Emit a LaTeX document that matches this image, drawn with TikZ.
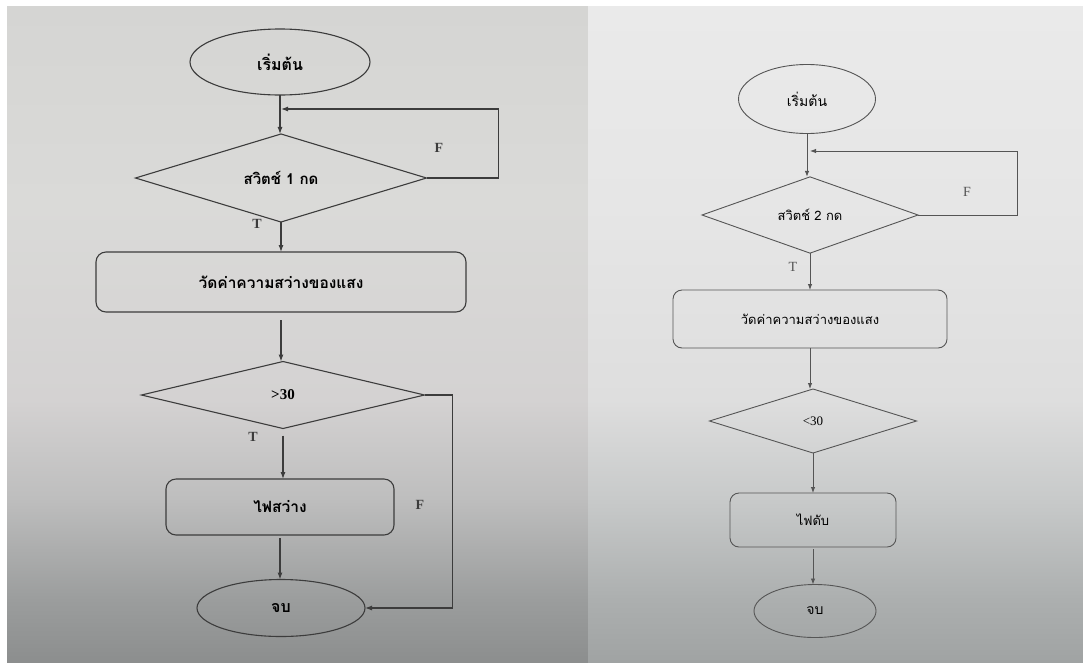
\documentclass[tikz,border=0pt]{standalone}
\usepackage{fontspec}
\setmainfont{Liberation Serif}
\newfontfamily\thai[Script=Thai]{Loma}
\usetikzlibrary{shapes.geometric,arrows.meta}
\definecolor{ink}{HTML}{3C3C3C}
\definecolor{inkr}{HTML}{555555}
\definecolor{lA}{RGB}{140,142,142}
\definecolor{lB}{RGB}{155,157,157}
\definecolor{lC}{RGB}{190,190,190}
\definecolor{lD}{RGB}{212,210,210}
\definecolor{lE}{RGB}{218,218,216}
\definecolor{lF}{RGB}{213,213,211}
\definecolor{rA}{RGB}{160,163,163}
\definecolor{rB}{RGB}{172,175,175}
\definecolor{rC}{RGB}{200,202,202}
\definecolor{rD}{RGB}{222,222,222}
\definecolor{rE}{RGB}{230,230,230}
\definecolor{rF}{RGB}{234,234,234}
\pgfdeclareverticalshading{leftbg}{100bp}{color(0bp)=(lA); color(25bp)=(lA); color(29.75bp)=(lB); color(37.5bp)=(lC); color(45bp)=(lD); color(60bp)=(lE); color(75bp)=(lF); color(100bp)=(lF)}
\pgfdeclareverticalshading{rightbg}{100bp}{color(0bp)=(rA); color(25bp)=(rA); color(29.75bp)=(rB); color(37.5bp)=(rC); color(45bp)=(rD); color(60bp)=(rE); color(75bp)=(rF); color(100bp)=(rF)}
\begin{document}
\begin{tikzpicture}[x=1pt,y=-1pt,
  every node/.style={inner sep=0pt,outer sep=0pt},
  termL/.style={ellipse,draw=ink,line width=1.1pt,font=\thai\bfseries\fontsize{16}{19}\selectfont},
  decL/.style={diamond,draw=ink,line width=1.1pt,font=\thai\bfseries\fontsize{15}{18}\selectfont},
  procL/.style={rectangle,rounded corners=10pt,draw=ink,line width=1.1pt,font=\thai\bfseries\fontsize{15.5}{18}\selectfont},
  termR/.style={ellipse,draw=inkr,line width=0.9pt,font=\thai\fontsize{14}{17}\selectfont},
  decR/.style={diamond,draw=inkr,line width=0.9pt,font=\thai\fontsize{13}{16}\selectfont},
  procR/.style={rectangle,rounded corners=9pt,draw=inkr,line width=0.9pt,font=\thai\fontsize{13}{16}\selectfont},
  arrL/.style={draw=ink,line width=1.1pt,-{Latex[length=7pt,width=5pt]}},
  arrR/.style={draw=inkr,line width=0.9pt,-{Latex[length=6pt,width=4.5pt]}},
  lblL/.style={font=\bfseries\fontsize{14}{16}\selectfont,text=ink},
  lblR/.style={font=\fontsize{14}{16}\selectfont,text=inkr}]
\useasboundingbox (0,0) rectangle (1083,662);
\fill[white] (0,0) rectangle (1083,662);
% photo backgrounds
\shade[shading=leftbg] (7,6) rectangle (588,662);
\shade[shading=rightbg] (588,6) rectangle (1083,662);

% ---------- left chart ----------
\node[termL,minimum width=180pt,minimum height=66pt] (s1) at (280,62) {เริ่มต้น};
\node[decL,minimum width=291pt,minimum height=74pt] (d1) at (281,178) {สวิตช์ 1 กด};
\node[procL,minimum width=370pt,minimum height=60pt] (r1) at (281,282) {วัดค่าความสว่างของแสง};
\node[decL,minimum width=283pt,minimum height=67pt,font=\bfseries\fontsize{15}{18}\selectfont] (d2) at (283,395) {>30};
\node[procL,minimum width=228pt,minimum height=56pt] (r2) at (280,507) {ไฟสว่าง};
\node[termL,minimum width=168pt,minimum height=57pt] (e1) at (281,608) {จบ};
\coordinate (lp1) at (281,109);

\draw[arrL] (s1.south) -- (s1.south |- d1.north);
\draw[arrL] (d1.east) -- ++(72,0) |- (lp1);
\draw[arrL] (d1.south) -- (d1.south |- r1.north);
\draw[arrL,shorten <=8pt] (r1.south) -- (r1.south |- d2.north);
\draw[arrL,shorten <=7pt] (d2.south) -- (d2.south |- r2.north);
\draw[arrL,shorten <=3pt] (r2.south) -- (r2.south |- e1.north);
\draw[arrL] (d2.east) -- ++(28,0) |- (e1.east);
\node[lblL] (f1) at (439,148) {F};
\node[lblL] (t1) at (257,224) {T};
\node[lblL] (t2) at (253,437) {T};
\node[lblL] (f2) at (420,505) {F};

% ---------- right chart ----------
\node[termR,minimum width=137pt,minimum height=69pt] (s2) at (807,99) {เริ่มต้น};
\node[decR,minimum width=216pt,minimum height=73pt] (d3) at (810,215) {สวิตช์ 2 กด};
\node[procR,minimum width=274pt,minimum height=58pt] (r3) at (810,319) {วัดค่าความสว่างของแสง};
\node[decR,minimum width=207pt,minimum height=64pt,font=\fontsize{13}{16}\selectfont] (d4) at (813,421) {<30};
\node[procR,minimum width=166pt,minimum height=54pt] (r4) at (813,520) {ไฟดับ};
\node[termR,minimum width=122pt,minimum height=53pt] (e2) at (815,611) {จบ};
\coordinate (lp2) at (810,151);

\draw[arrR] (s2.south) -- (s2.south |- d3.north);
\draw[arrR] (d3.east) -- ++(99,0) |- (lp2);
\draw[arrR] (d3.south) -- (d3.south |- r3.north);
\draw[arrR] (r3.south) -- (r3.south |- d4.north);
\draw[arrR] (d4.south) -- (d4.south |- r4.north);
\draw[arrR,shorten <=2pt] (r4.south) -- (r4.south |- e2.north);
\node[lblR] (f3) at (967,192) {F};
\node[lblR] (t3) at (793,267) {T};
\end{tikzpicture}
\end{document}
